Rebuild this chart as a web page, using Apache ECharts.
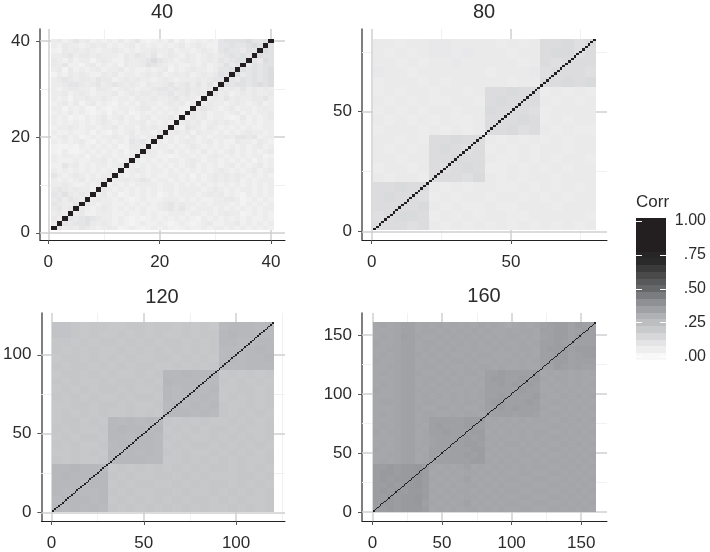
<!DOCTYPE html>
<html>
<head>
<meta charset="utf-8">
<style>
  html, body { margin: 0; padding: 0; background: #fff; }
  #main { width: 710px; height: 552px; }
</style>
<script src="https://cdn.jsdelivr.net/npm/echarts@6/dist/echarts.min.js"></script>
</head>
<body>
<div id="main"></div>
<script>
// every digit is one estimated cell, top row first: corr = base + digit * step
const corr40Base = 0.005;
const corr40Step = 0.018;
const corr40Rows = [
  "3423534232324235212324131232325666675565", "3243323434232342323232342343225565567656",
  "2143434323343232334334233234325655465676", "3345344343332435435234324323434565654766",
  "4324233134322433457543234323435456655476", "4352213423231433465432322324234645546566",
  "3414232342334232232341323433235565656567", "1324343224342332343423434234346556456567",
  "3454344354423434332343233343455454656567", "3345543453454343243345345353535656656767",
  "3234433244323432334554545443444343534343", "3342343233342343443445345344453423434334",
  "3231334334323324334334534324343534334453", "2342413423213232433234342453433234323423",
  "3313231132123323442323422345432342332343", "2324232123132312323232321434233234232334",
  "3231213234234231342334232434233212423234", "3232323234323233423232134342343432323233",
  "2334323323342332434332325432432323232233", "3223223132132342332433434243323232343323",
  "2342312323343243234233232423233435545233", "3232342132323254532323234323423224332432",
  "2112132323231244342332323432323232323423", "2131123232323134343234232324232342323234",
  "3233231323323232333221233232343232323312", "3222322334232323232323323432332323231323",
  "2253423233234232323232323423232342323423", "3232323232323234323323232323234323234234",
  "5323432323323232323223323132343434323232", "3232342334233434542332323232343434232333",
  "3343223234232323333233232323232323232323", "4543433234323232323233233332343232332323",
  "5464343234231232323123233323434232132323", "4535434343323212322233323232233443123232",
  "5433534323322323232345343323233323132323", "4534343234323232322345353233323232323233",
  "3434342233322322323223332332323433123232", "4345456543323212123232323213232323232232",
  "3454556434323212322321232123422334232323", "4534354323431232123232123223233232323232"
];

const corr80Base = 0.05;
const corr80Step = 0.01;
const corr80Cell = 4;
const corr80Rows = [
  "22122332222121288979", "21212332322212289978", "22121223222221287888", "32212222221222378887",
  "12221212222212288989", "12122122128898812121", "21212112218988821212", "12121221229888712222",
  "21212121128889812122", "12221212128897821211", "22121889882121212122", "21212898781212122122",
  "22122889882112121221", "12212878981121212122", "21221888792121221222", "88988212122112121212",
  "89887121221221212122", "88889212112112221222", "78998121212211222221", "88878212121212121212"
];

const corr120Base = 0.2;
const corr120Step = 0.009;
const corr120Cell = 5;
const corr120Rows = [
  "332122112212212121788878", "332121121212112122898877", "221212212121221212887788",
  "212121121212121212777898", "122121212112212121787889", "212212121221121212877888",
  "122121211212889888121212", "212112122121988877212121", "121212212112878778112212",
  "212121121221877787121212", "112212212112787878211212", "121212112121888787212121",
  "122121878787212121121212", "212112898878121212212112", "121221887887212112121212",
  "212112788887121221212121", "112121878787212112121212", "212112888877112121212112",
  "889887121212121212212121", "898888212112212121112212", "888788121221121212212121",
  "878778212112212112121212", "788878121212121221212112", "878787212121212121121212"
];

const corr160Base = 0.305;
const corr160Step = 0.008;
const corr160Cell = 5;
const corr160Rows = [
  "34345534343434343432343456775766", "33345534434343434334344366775676",
  "34346543343434343434434356775766", "43345534434343434343343466765666",
  "33445534343433433434344367776777", "34345543434334344333434366775677",
  "43345534343443433434343466775666", "33445534434334344343343355765655",
  "34345543343434436676666734343434", "33345534434343346776676743443433",
  "34345534343443436676767634343434", "43345543434334346666576633434343",
  "33345534343434346676666743343434", "34445534433434436776667634434343",
  "33345543344343346676766643343434", "34345534433434435666566534434343",
  "33345534666667773434343443343434", "34345543676667764343434334434343",
  "43445534667666773434343443343434", "33345534566667674343343434434343",
  "34345534566667763434434343343434", "43345543665666774343343434434343",
  "33445534656667673434344343343434", "34345534566666774343433434434343",
  "77878897434345343434343443343434", "78878897343434434343344334434343",
  "78788897434345343434433443343434", "77878897343434434343344334434343",
  "78787887434344343434433443343434", "77878897343434434343344334434343",
  "78878896434345343434433443343434", "77878887343434434343344334434343"
];

const panelSizes = [40, 80, 120, 160];
const xMajorTicks = [[0, 20, 40], [0, 50], [0, 50, 100], [0, 50, 100, 150]];
const yMajorTicks = [[0, 20, 40], [0, 50], [0, 50, 100], [0, 50, 100, 150]];
const xMinorLines = [[10, 30], [25, 75], [25, 75, 125], [25, 75, 125]];
const yMinorLines = [[10, 30], [25, 75], [25, 75], [25, 75, 125]];

const legendLevels = [0, .05, .1, .15, .2, .25, .3, .35, .4, .45, .5, .55, .6, .65, .7, .75, .8, .85, .9, .95, 1];
const legendTicks = [0, .25, .5, .75, 1];
const legendRightTicks = [0, .25, .5, .75];
const legendLabels = [".00", ".25", ".50", ".75", "1.00"];
// colours of the Corr scale at .0, .1, ... 1.0
const corrColors = ["#f8f8f8", "#e4e4e6", "#c9cacc", "#b0b1b4", "#8f9094", "#666769", "#4a4a4b", "#2a2a2a", "#231f20", "#231f20", "#231f20"];

const fontName = "Liberation Sans";
const textColor = "#2b2b2b";

const panelRows = [corr40Rows, corr80Rows, corr120Rows, corr160Rows];
const panelBases = [corr40Base, corr80Base, corr120Base, corr160Base];
const panelSteps = [corr40Step, corr80Step, corr120Step, corr160Step];
const panelCells = [1, corr80Cell, corr120Cell, corr160Cell];
const panelGrids = [
  { left: 40, top: 29, width: 245, height: 211 },
  { left: 362, top: 29, width: 245, height: 211 },
  { left: 40, top: 313, width: 245, height: 211 },
  { left: 362, top: 313, width: 245, height: 211 }
];
const titlePos = [[162, 2], [484, 2], [162, 287], [484, 286]];

// [x, y, corr, cell width, cell height]
function buildCells(p) {
  const n = panelSizes[p], cell = panelCells[p], rows = panelRows[p], out = [];
  rows.forEach((row, r) => {
    for (let c = 0; c < row.length; c++) {
      out.push([c * cell + (cell + 1) / 2, n - r * cell - (cell - 1) / 2, panelBases[p] + Number(row[c]) * panelSteps[p], cell, cell]);
    }
  });
  // the diagonal of a correlation matrix
  for (let i = 1; i <= n; i++) out.push([i, i, 1, 1, 1]);
  return out;
}

function renderCell(params, api) {
  const x = api.value(0), y = api.value(1), w = api.value(3), h = api.value(4);
  const a = api.coord([x - w / 2, y + h / 2]);
  const b = api.coord([x + w / 2, y - h / 2]);
  const x0 = Math.round(a[0]), y0 = Math.round(a[1]);
  return {
    type: "rect",
    shape: { x: x0, y: y0, width: Math.max(1, Math.round(b[0]) - x0), height: Math.max(1, Math.round(b[1]) - y0) },
    style: { fill: api.visual("color") }
  };
}

const grid = [], xAxis = [], yAxis = [], series = [], title = [];

panelSizes.forEach((n, p) => {
  const pad = n * 0.05; // ggplot style expansion around 0.5 .. n + 0.5
  grid.push(panelGrids[p]);
  title.push({
    text: String(n), left: titlePos[p][0], top: titlePos[p][1], textAlign: "center", padding: 0,
    textStyle: { fontFamily: fontName, fontSize: 20, fontWeight: "normal", color: textColor }
  });
  const makeAxis = (ticks, pos) => ({
    type: "value", gridIndex: p, position: pos, min: 0.5 - pad, max: n + 0.5 + pad,
    axisLine: { show: true, onZero: false, lineStyle: { color: pos === "left" ? "#555" : "#222", width: pos === "left" ? 1.5 : 1 } },
    axisTick: { show: true, length: 4, customValues: ticks, lineStyle: { color: "#555" } },
    axisLabel: { customValues: ticks, margin: pos === "left" ? 10 : 14, fontFamily: fontName, fontSize: 17, color: textColor, hideOverlap: false },
    splitLine: { show: false }
  });
  xAxis.push(makeAxis(xMajorTicks[p], "bottom"));
  yAxis.push(makeAxis(yMajorTicks[p], "left"));
  const lineData = (vals, key) => vals.map(v => ({ [key]: v }));
  // faint and major grid lines, under the cells
  series.push({
    type: "line", xAxisIndex: p, yAxisIndex: p, data: [], z: 1, silent: true,
    markLine: {
      z: 1, silent: true, symbol: "none", animation: false, label: { show: false }, precision: 3,
      lineStyle: { color: "#f1f1f1", width: 1, type: "solid" },
      data: lineData(xMinorLines[p], "xAxis").concat(lineData(yMinorLines[p], "yAxis"))
    }
  });
  series.push({
    type: "line", xAxisIndex: p, yAxisIndex: p, data: [], z: 1, silent: true,
    markLine: {
      z: 1, silent: true, symbol: "none", animation: false, label: { show: false }, precision: 3,
      lineStyle: { color: "#cfcfcf", width: 1.5, type: "solid" },
      data: lineData(xMajorTicks[p], "xAxis").concat(lineData(yMajorTicks[p], "yAxis"))
    }
  });
  series.push({
    type: "custom", xAxisIndex: p, yAxisIndex: p, z: 2, silent: true, clip: true,
    renderItem: renderCell, encode: { x: 0, y: 1 }, data: buildCells(p)
  });
});

// Corr colour bar
grid.push({ left: 636, top: 217, width: 30, height: 145 });
xAxis.push({ type: "value", gridIndex: 4, min: 0, max: 1, show: false });
const legendAxis = (pos, withLabels, ticks) => ({
  type: "value", gridIndex: 4, position: pos, min: -0.04, max: 1.03, z: 5,
  axisLine: { show: false },
  splitLine: { show: false },
  axisTick: { show: true, inside: true, length: 6, customValues: ticks, lineStyle: { color: "#fff", width: 1 } },
  axisLabel: {
    show: withLabels, customValues: legendTicks, align: "right", margin: 40, padding: [6, 0, 0, 0],
    fontFamily: fontName, fontSize: 16, color: textColor,
    formatter: v => legendLabels[legendTicks.indexOf(v)]
  }
});
yAxis.push(legendAxis("left", false, legendTicks), legendAxis("right", true, legendRightTicks));
series.push({
  type: "custom", xAxisIndex: 4, yAxisIndex: 4, z: 2, silent: true,
  renderItem: renderCell, encode: { x: 0, y: 1 },
  data: legendLevels.map(v => [0.5, v, v, 1, 0.05])
});
title.push({
  text: "Corr", left: 636, top: 194, padding: 0,
  textStyle: { fontFamily: fontName, fontSize: 17, fontWeight: "normal", color: textColor }
});

const chart = echarts.init(document.getElementById("main"), null, { renderer: "canvas" });
chart.setOption({
  backgroundColor: "#fff",
  animation: false,
  title, grid, xAxis, yAxis, series,
  visualMap: {
    show: false, type: "continuous", min: 0, max: 1, dimension: 2,
    seriesIndex: series.map((s, i) => (s.type === "custom" ? i : -1)).filter(i => i >= 0),
    inRange: { color: corrColors }
  }
});
</script>
</body>
</html>
